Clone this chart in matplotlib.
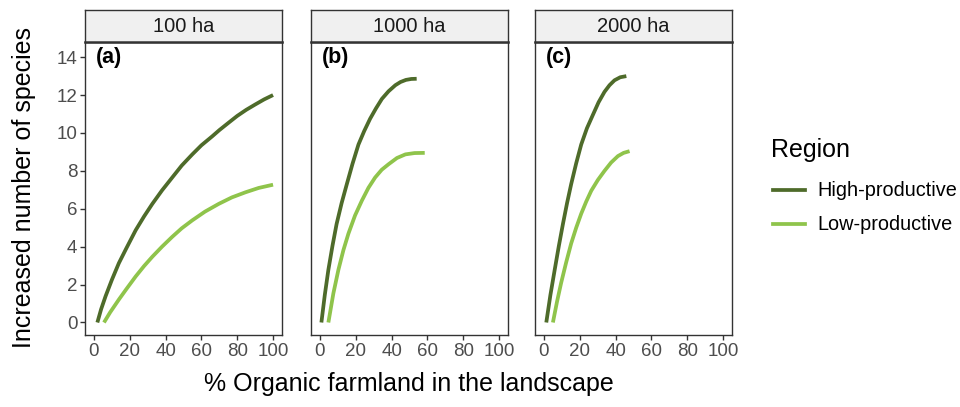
import matplotlib
matplotlib.use("Agg")
import matplotlib.pyplot as plt
from matplotlib.lines import Line2D

plt.rcParams['font.family'] = ['Liberation Sans', 'DejaVu Sans']

# facet labels
facets = ["100 ha", "1000 ha", "2000 ha"]
panel_tags = ["(a)", "(b)", "(c)"]
regions = ["High-productive", "Low-productive"]
region_colors = ["#4E6B2A", "#8FC44B"]

# values (x = % organic farmland, y = increase in species)
high_100_x = [1.9, 4.0, 6.5, 10.0, 13.9, 18.0, 23.3, 28.0, 32.6, 38.0, 43.7, 49.0,
              54.9, 60.0, 66.0, 70.0, 75.3, 80.0, 85.0, 90.0, 95.0, 100.0]
high_100_y = [0.0, 0.7, 1.39, 2.25, 3.13, 3.9, 4.87, 5.6, 6.26, 6.97, 7.65, 8.28,
              8.87, 9.35, 9.82, 10.15, 10.55, 10.9, 11.22, 11.5, 11.77, 12.0]
low_100_x = [5.6, 9.0, 13.9, 18.0, 23.3, 28.0, 32.6, 38.0, 43.7, 49.0, 54.9, 62.0,
             69.7, 77.0, 84.6, 92.0, 100.0]
low_100_y = [0.0, 0.53, 1.21, 1.75, 2.43, 2.98, 3.47, 4.0, 4.52, 4.97, 5.39, 5.85,
             6.26, 6.6, 6.87, 7.1, 7.27]

high_1000_x = [0.8, 2.7, 4.7, 7.0, 9.3, 12.1, 15.0, 18.2, 21.5, 24.7, 28.0, 31.3,
               34.6, 38.3, 42.1, 45.0, 48.0, 51.0, 54.0]
high_1000_y = [0.0, 1.45, 2.78, 4.05, 5.2, 6.3, 7.3, 8.38, 9.39, 10.1, 10.75, 11.3,
               11.8, 12.2, 12.52, 12.69, 12.8, 12.85, 12.86]
low_1000_x = [4.7, 7.5, 10.3, 13.1, 15.9, 19.6, 23.4, 27.1, 30.8, 34.5, 38.3, 43.0,
              47.7, 52.8, 58.5]
low_1000_y = [0.0, 1.54, 2.78, 3.82, 4.69, 5.65, 6.43, 7.11, 7.65, 8.06, 8.35, 8.68,
              8.87, 8.94, 8.95]

high_2000_x = [1.3, 3.6, 6.0, 8.3, 10.6, 12.9, 15.2, 18.0, 20.8, 24.0, 27.3, 30.5,
               33.8, 36.6, 39.4, 42.6, 46.0]
high_2000_y = [0.0, 1.45, 2.78, 4.03, 5.2, 6.3, 7.3, 8.4, 9.39, 10.25, 10.95, 11.62,
               12.17, 12.52, 12.78, 12.94, 13.0]
low_2000_x = [5.0, 7.3, 9.6, 12.4, 15.2, 18.0, 20.8, 23.6, 26.4, 30.1, 33.8, 37.5,
              41.3, 44.5, 47.8]
low_2000_y = [0.0, 1.1, 2.09, 3.17, 4.17, 5.0, 5.74, 6.38, 6.95, 7.52, 8.0, 8.44,
              8.78, 8.95, 9.04]

xticks = [0, 20, 40, 60, 80, 100]
yticks = [0, 2, 4, 6, 8, 10, 12, 14]

series = [
    [(high_100_x, high_100_y), (low_100_x, low_100_y)],
    [(high_1000_x, high_1000_y), (low_1000_x, low_1000_y)],
    [(high_2000_x, high_2000_y), (low_2000_x, low_2000_y)],
]

W, H = 960, 407
fig = plt.figure(figsize=(W / 100, H / 100), dpi=100)

panel_left = [85, 311, 535]
panel_w = 197
panel_top, panel_bottom = 42, 335
strip_top = 10
border = "#333333"
line_w = 2.7

for i, left in enumerate(panel_left):
    ax = fig.add_axes([left / W, (H - panel_bottom) / H, panel_w / W,
                       (panel_bottom - panel_top) / H])
    for (xs, ys), col in zip(series[i], region_colors):
        ax.plot(xs, ys, color=col, lw=line_w, solid_capstyle='butt',
                solid_joinstyle='round')
    ax.set_xlim(-5, 105)
    ax.set_ylim(-0.66, 14.8)
    ax.set_xticks(xticks)
    ax.set_yticks(yticks)
    ax.tick_params(colors=border, labelcolor="#4D4D4D", labelsize=13.5,
                   length=3.5, width=1.0, pad=2)
    if i > 0:
        ax.tick_params(axis='y', left=False, labelleft=False)
    for sp in ax.spines.values():
        sp.set_color(border)
        sp.set_linewidth(1.0)
    ax.text(1, 14.0, panel_tags[i], fontsize=15.5, fontweight='bold',
            ha='left', va='center')

    # facet strip
    sax = fig.add_axes([left / W, (H - panel_top) / H, panel_w / W,
                        (panel_top - strip_top) / H])
    sax.set_facecolor("#F0F0F0")
    sax.set_xticks([])
    sax.set_yticks([])
    for sp in sax.spines.values():
        sp.set_color(border)
        sp.set_linewidth(1.0)
    sax.spines['bottom'].set_linewidth(1.8)
    sax.text(0.5, 0.5, facets[i], fontsize=14.5, ha='center', va='center',
             transform=sax.transAxes, color="#1A1A1A")

fig.text((85 + 732) / 2 / W, (H - 384) / H, "% Organic farmland in the landscape",
         fontsize=18, ha='center', va='center')
fig.text(24 / W, (H - 188) / H, "Increased number of species",
         fontsize=18, ha='center', va='center', rotation=90)

# legend, drawn by hand so it sits where the reference has it
fig.text(771 / W, (H - 150) / H, "Region", fontsize=18, ha='left', va='center')
for name, col, ky in zip(regions, region_colors, [190, 224]):
    fig.add_artist(Line2D([773 / W, 805 / W], [(H - ky) / H, (H - ky) / H],
                          color=col, lw=line_w, transform=fig.transFigure))
    fig.text(817 / W, (H - ky) / H, name, fontsize=14.3, ha='left', va='center')

fig.savefig("out.png", dpi=100)
